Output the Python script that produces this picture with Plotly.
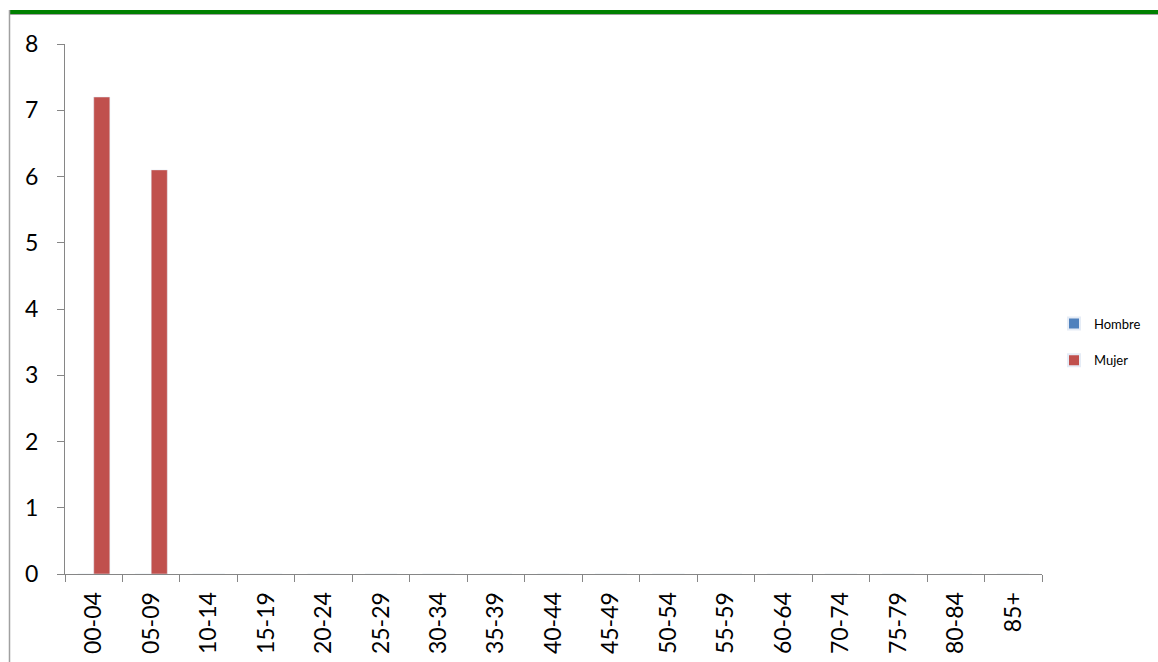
import plotly.graph_objects as go

# Age groups and counts per sex
grupos = ["00-04", "05-09", "10-14", "15-19", "20-24", "25-29", "30-34", "35-39",
          "40-44", "45-49", "50-54", "55-59", "60-64", "70-74", "75-79", "80-84", "85+"]
hombre = [0] * len(grupos)
mujer = [7.2, 6.1, 0, 0, 0, 0, 0, 0, 0, 0, 0, 0, 0, 0, 0, 0, 0]

W, H = 1158, 662
L, R, T, B = 65, 1042, 44, 574

def px_x(px):
    return (px - L) / (R - L)

def px_y(py):
    return (B - py) / (B - T)

fig = go.Figure()
fig.add_trace(go.Bar(name="Hombre", x=grupos, y=hombre, marker_color="#4F81BD",
                     legendgroup="h"))
fig.add_trace(go.Bar(name="Mujer", x=grupos, y=mujer, marker_color="#C0504D",
                     legendgroup="m"))

axis_font = dict(family="Lato, Open Sans, sans-serif", color="#000000")

fig.update_layout(
    width=W, height=H,
    margin=dict(l=L, r=W - R, t=T, b=H - B, autoexpand=False),
    paper_bgcolor="white", plot_bgcolor="white",
    barmode="group", bargap=0.44, bargroupgap=0,
    showlegend=True,
    legend=dict(x=px_x(1054), y=px_y(342), xanchor="left", yanchor="middle",
                font=dict(family="Lato, Open Sans, sans-serif", size=13, color="#000"),
                itemsizing="constant", tracegroupgap=17, itemwidth=30,
                traceorder="grouped", bgcolor="rgba(0,0,0,0)"),
    xaxis=dict(type="category", showline=True, linecolor="#868686", linewidth=1,
               ticks="outside", ticklen=7, tickcolor="#868686",
               tickson="boundaries", tickangle=-90, ticklabelstandoff=8,
               tickfont=dict(size=23, **axis_font), showgrid=False),
    yaxis=dict(range=[0, 8], dtick=1, showline=True, linecolor="#868686", linewidth=1,
               ticks="outside", ticklen=7, tickcolor="#868686",
               tickfont=dict(size=23, **axis_font), showgrid=False, zeroline=False,
               ticklabelstandoff=14),
    shapes=[
        # green rule across the top
        dict(type="line", xref="paper", yref="paper",
             x0=px_x(9), x1=px_x(1158), y0=px_y(12), y1=px_y(12),
             line=dict(color="#008000", width=4)),
        dict(type="line", xref="paper", yref="paper",
             x0=px_x(9), x1=px_x(1158), y0=px_y(14.5), y1=px_y(14.5),
             line=dict(color="#A0A0A0", width=1)),
        # left border
        dict(type="line", xref="paper", yref="paper",
             x0=px_x(9.5), x1=px_x(9.5), y0=px_y(10), y1=px_y(662),
             line=dict(color="#A0A0A0", width=1.5)),
    ],
)

fig.write_html("out.html")
